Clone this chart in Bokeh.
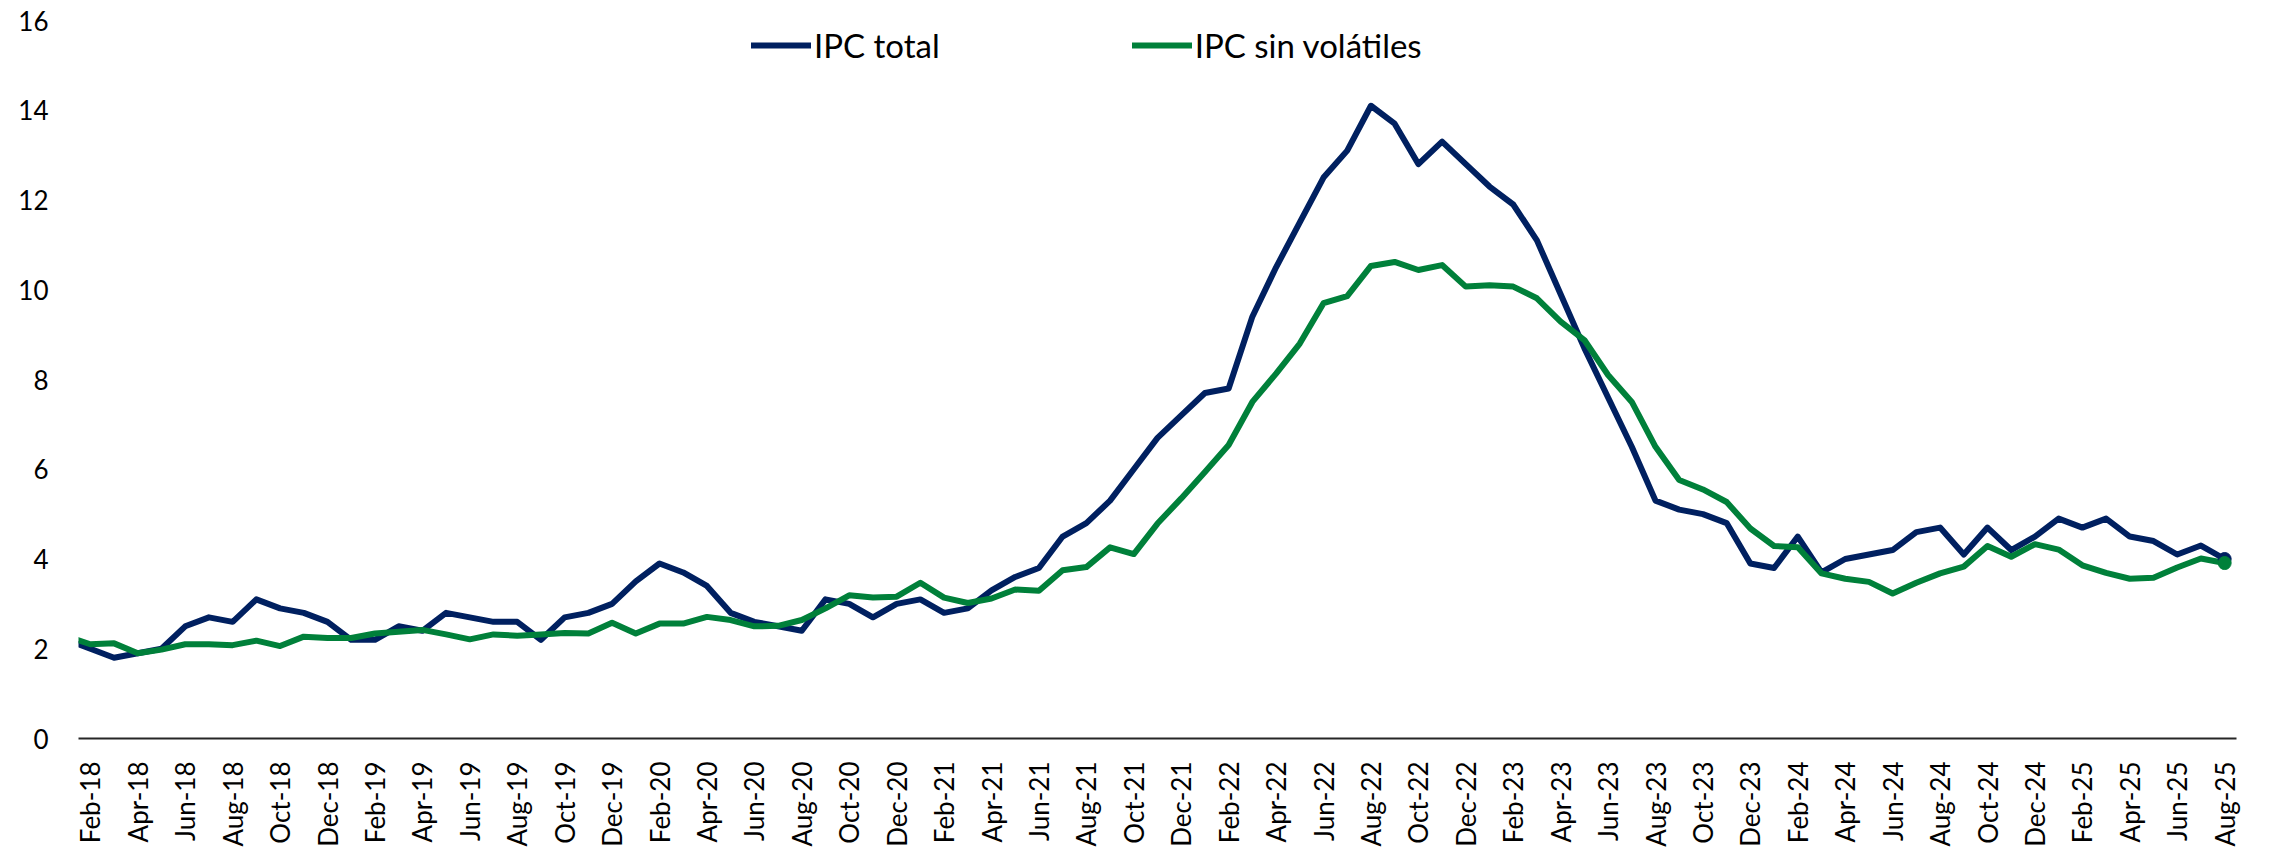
import pandas as pd
from bokeh.plotting import figure
from bokeh.models import Range1d, FixedTicker, Legend, LegendItem
from bokeh.embed import file_html
from bokeh.resources import INLINE
from math import pi

# ---- data ----
months = [d.strftime("%b-%y") for d in pd.date_range("2018-01-01", "2025-08-01", freq="MS")]
month_pos = list(range(-1, len(months) - 1))   # Feb-18 = 0

ipc_total = [
    2.2, 2.0, 1.8, 1.9, 2.0, 2.5, 2.7, 2.6, 3.1, 2.9, 2.8, 2.6,
    2.2, 2.2, 2.5, 2.4, 2.8, 2.7, 2.6, 2.6, 2.2, 2.7, 2.8, 3.0,
    3.5, 3.9, 3.7, 3.4, 2.8, 2.6, 2.5, 2.4, 3.1, 3.0, 2.7, 3.0,
    3.1, 2.8, 2.9, 3.3, 3.6, 3.8, 4.5, 4.8, 5.3, 6.0, 6.7, 7.2,
    7.7, 7.8, 9.4, 10.5, 11.5, 12.5, 13.1, 14.1, 13.7, 12.8, 13.3, 12.8,
    12.3, 11.9, 11.1, 9.9, 8.7, 7.6, 6.5, 5.3, 5.1, 5.0, 4.8, 3.9,
    3.8, 4.5, 3.7, 4.0, 4.1, 4.2, 4.6, 4.7, 4.1, 4.7, 4.2, 4.5,
    4.9, 4.7, 4.9, 4.5, 4.4, 4.1, 4.3, 4.0,
]
ipc_sin_volatiles = [
    2.28, 2.10, 2.12, 1.90, 1.98, 2.10, 2.10, 2.08, 2.18, 2.06, 2.27, 2.24,
    2.24, 2.34, 2.38, 2.42, 2.32, 2.21, 2.32, 2.29, 2.32, 2.35, 2.34, 2.58,
    2.34, 2.56, 2.56, 2.71, 2.64, 2.50, 2.51, 2.64, 2.90, 3.19, 3.14, 3.16,
    3.47, 3.14, 3.02, 3.12, 3.32, 3.29, 3.75, 3.82, 4.26, 4.11, 4.79, 5.35,
    5.94, 6.54, 7.50, 8.13, 8.80, 9.70, 9.86, 10.53, 10.62, 10.44, 10.55, 10.07,
    10.10, 10.07, 9.81, 9.29, 8.88, 8.10, 7.50, 6.50, 5.76, 5.55, 5.27, 4.68,
    4.29, 4.26, 3.68, 3.56, 3.49, 3.23, 3.47, 3.68, 3.83, 4.29, 4.05, 4.33,
    4.21, 3.86, 3.69, 3.56, 3.58, 3.81, 4.01, 3.91,
]
y_ticks = [0, 2, 4, 6, 8, 10, 12, 14, 16]
series_names = ["IPC total", "IPC sin volátiles"]

# ---- styling ----
BLUE = "#002060"
GREEN = "#00803A"
FONT = "Lato"

p = figure(frame_width=2158, frame_height=718, output_backend="svg", toolbar_location=None,
           x_range=Range1d(-0.5, len(months) - 1.5), y_range=Range1d(0, 16),
           min_border_left=78, min_border_right=26, min_border_top=20,
           min_border_bottom=107)
p.outline_line_color = None
p.grid.grid_line_color = None
p.background_fill_color = "white"

r1 = p.line(month_pos, ipc_total, line_color=BLUE, line_width=6,
            line_join="round", line_cap="round")
r2 = p.line(month_pos, ipc_sin_volatiles, line_color=GREEN, line_width=6,
            line_join="round", line_cap="round")
p.scatter([month_pos[-1]], [ipc_total[-1]], size=13, color=BLUE)
p.scatter([month_pos[-1]], [ipc_sin_volatiles[-1]], size=13, color=GREEN)

# x axis
xt = [month_pos[i] for i in range(1, len(months), 2)]
p.xaxis.ticker = FixedTicker(ticks=xt)
p.xaxis.major_label_overrides = {month_pos[i]: months[i] for i in range(1, len(months), 2)}
p.xaxis.major_label_orientation = pi / 2
p.xaxis.major_tick_out = 0
p.xaxis.major_tick_in = 0
p.xaxis.minor_tick_out = 0
p.xaxis.minor_tick_in = 0
p.xaxis.major_label_standoff = 23
p.xaxis.axis_line_color = "#262626"
p.xaxis.axis_line_width = 2
p.xaxis.major_label_text_font = FONT
p.xaxis.major_label_text_font_size = "26px"
p.xaxis.major_label_text_color = "#000000"

# y axis
p.yaxis.ticker = FixedTicker(ticks=y_ticks)
p.yaxis.axis_line_color = None
p.yaxis.major_tick_out = 0
p.yaxis.major_tick_in = 0
p.yaxis.minor_tick_out = 0
p.yaxis.minor_tick_in = 0
p.yaxis.major_label_standoff = 30
p.yaxis.major_label_text_font = FONT
p.yaxis.major_label_text_font_size = "26px"
p.yaxis.major_label_text_color = "#000000"

legend = Legend(items=[LegendItem(label=series_names[0], renderers=[r1]),
                       LegendItem(label=series_names[1], renderers=[r2])],
                orientation="horizontal", location=(673, 673),
                glyph_width=60, glyph_height=36, label_standoff=3, spacing=192,
                padding=0, margin=0, border_line_color=None,
                background_fill_alpha=0,
                label_text_font=FONT, label_text_font_size="33px",
                label_text_color="#000000")
p.add_layout(legend)

open("out.html", "w").write(file_html(p, INLINE))
